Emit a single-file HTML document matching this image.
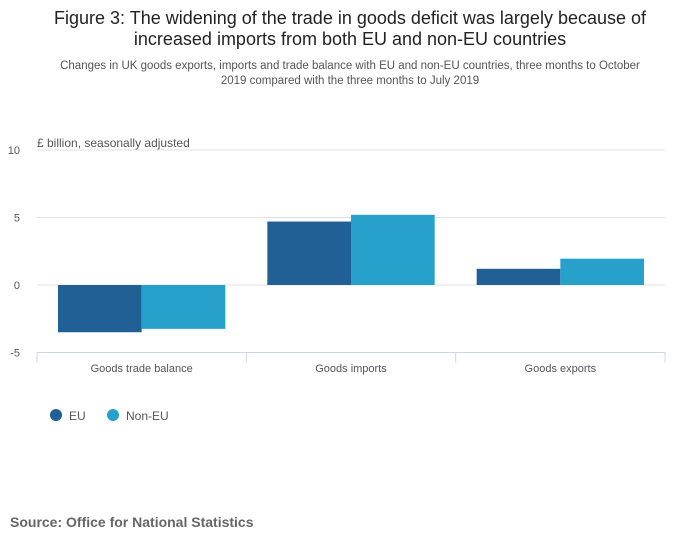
<!DOCTYPE html>
<html><head><meta charset="utf-8"><style>
body{margin:0;background:#fff;font-family:"Liberation Sans",sans-serif;}
</style></head><body>
<svg width="700" height="549" viewBox="0 0 700 549" style="display:block">
<text x="350" y="24" text-anchor="middle" font-size="18" fill="#222">Figure 3: The widening of the trade in goods deficit was largely because of</text>
<text x="350" y="45" text-anchor="middle" font-size="18" fill="#222">increased imports from both EU and non-EU countries</text>
<text x="350" y="69" text-anchor="middle" font-size="11.5" fill="#555">Changes in UK goods exports, imports and trade balance with EU and non-EU countries, three months to October</text>
<text x="350" y="84" text-anchor="middle" font-size="11.5" fill="#555">2019 compared with the three months to July 2019</text>
<text x="37" y="147" font-size="12" fill="#555">£ billion, seasonally adjusted</text>
<g id="grid"></g><g id="bars"></g><g id="xaxis"></g>
<g>
<circle cx="56" cy="415" r="6" fill="#206095"/>
<text x="69" y="420" font-size="12" fill="#555">EU</text>
<circle cx="113" cy="415" r="6" fill="#27a0cc"/>
<text x="126" y="420" font-size="12" fill="#555">Non-EU</text>
</g>
<text x="10" y="527" font-size="14" font-weight="bold" fill="#666">Source: Office for National Statistics</text>
</svg>
<script>
const categories=["Goods trade balance","Goods imports","Goods exports"];
const euValues=[-3.5,4.7,1.2];
const nonEuValues=[-3.25,5.2,1.95];
const yTicks=[10,5,0,-5];
const NS="http://www.w3.org/2000/svg";
const x0=37,x1=665,yTop=150,yBot=352.5,vMax=10,vMin=-5;
function y(v){return yTop+(vMax-v)/(vMax-vMin)*(yBot-yTop);}
const bw=(x1-x0)/categories.length;
function el(t,a,p){const e=document.createElementNS(NS,t);for(const k in a)e.setAttribute(k,a[k]);p.appendChild(e);return e;}
const grid=document.getElementById('grid'),bars=document.getElementById('bars'),xa=document.getElementById('xaxis');
yTicks.forEach(t=>{
 if(t!==vMin){const l=el('line',{x1:x0,x2:x1,y1:y(t),y2:y(t),stroke:'#e0e0e0','stroke-width':1},grid);
 
 }
 const tx=el('text',{x:20,y:y(t)+4,'text-anchor':'end','font-size':11,fill:'#555'},grid);
 tx.textContent=t;
 
 
});
const ax=el('line',{x1:x0,x2:x1,y1:yBot,y2:yBot,stroke:'#ccd6eb','stroke-width':1},xa);


for(let i=0;i<=categories.length;i++){const tk=el('line',{x1:x0+i*bw,x2:x0+i*bw,y1:yBot,y2:yBot+10,stroke:'#ccd6eb'},xa);
 
 }
const pad=21,inner=(bw-2*pad)/2;
categories.forEach((c,i)=>{
 const gx=x0+i*bw+pad;
 [[euValues[i],'#206095','eu'],[nonEuValues[i],'#27a0cc','non-eu']].forEach((s,j)=>{
  const v=s[0];const top=Math.min(y(v),y(0)),h=Math.abs(y(v)-y(0));
  const r=el('rect',{x:gx+j*inner,y:top,width:inner,height:h,fill:s[1]},bars);
  
  
 });
 const t=el('text',{x:x0+i*bw+bw/2,y:372,'text-anchor':'middle','font-size':11,fill:'#555'},xa);
 t.textContent=c;
 
 
});
</script>
</body></html>
